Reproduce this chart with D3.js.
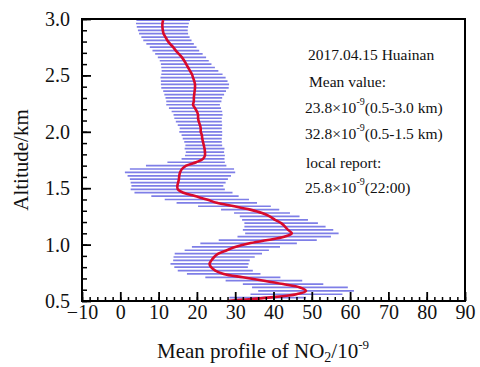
<!DOCTYPE html>
<html>
<head>
<meta charset="utf-8">
<script src="https://cdn.jsdelivr.net/npm/d3@7"></script>
<style>
  body { margin: 0; background: #fff; }
</style>
</head>
<body>
<div id="chart"></div>
<script>
// altitude levels (km)
const altitude = [
  0.50, 0.53, 0.56, 0.59, 0.62, 0.65, 0.68, 0.71, 0.74, 0.77,
  0.80, 0.83, 0.86, 0.89, 0.92, 0.95, 0.98, 1.01, 1.04, 1.07,
  1.10, 1.13, 1.16, 1.19, 1.22, 1.25, 1.28, 1.31, 1.34, 1.37,
  1.40, 1.43, 1.46, 1.49, 1.52, 1.55, 1.58, 1.61, 1.64, 1.67,
  1.70, 1.73, 1.76, 1.79, 1.82, 1.85, 1.88, 1.91, 1.94, 1.97,
  2.00, 2.03, 2.06, 2.09, 2.12, 2.15, 2.18, 2.21, 2.24, 2.27,
  2.30, 2.33, 2.36, 2.39, 2.42, 2.45, 2.48, 2.51, 2.54, 2.57,
  2.60, 2.63, 2.66, 2.69, 2.72, 2.75, 2.78, 2.81, 2.84, 2.87,
  2.90, 2.93, 2.96, 2.99
];

// mean NO2 (x10^-9)
const meanNO2 = [
  28.0, 38.5, 46.0, 48.5, 46.9, 42.5, 37.5, 32.0, 27.0, 24.8,
  23.7, 23.3, 23.8, 24.5, 25.6, 27.8, 30.2, 33.5, 38.5, 42.8,
  44.8, 43.8, 43.0, 42.0, 40.4, 39.0, 37.0, 33.9, 29.8, 25.2,
  22.6, 19.5, 16.5, 15.0, 14.9, 15.1, 15.3, 15.4, 15.6, 16.1,
  17.2, 19.8, 21.6, 22.1, 22.1, 22.0, 21.8, 21.6, 21.4, 21.3,
  21.0, 21.0, 20.8, 20.5, 20.3, 20.3, 20.0, 19.5, 19.0, 19.2,
  19.2, 19.3, 19.4, 19.5, 19.5, 19.3, 19.0, 18.7, 18.2, 17.7,
  17.2, 16.7, 16.1, 15.3, 14.5, 13.8, 13.0, 12.3, 11.8, 11.3,
  11.1, 11.0, 11.0, 11.2
];

// half width of the error bars (x10^-9)
const errNO2 = [
   7.0, 10.0, 12.0, 12.5, 12.5, 10.5, 10.0,  9.8,  9.6,  9.8,
   9.6, 10.2, 10.0, 10.6, 11.4, 11.0, 11.5, 12.6, 12.8, 12.2,
  12.2, 11.8, 10.6,  9.6,  8.6,  7.8,  7.3,  7.6,  9.5, 10.5,
  11.0, 11.4, 12.8, 12.3, 12.0, 12.4, 12.8, 13.5, 14.4, 13.6,
  10.5,  7.5,  5.6,  5.2,  5.0,  5.2,  4.8,  4.9,  5.1,  5.3,
   5.6,  5.5,  5.8,  6.0,  6.2,  6.4,  6.6,  6.8,  7.0,  7.2,
   7.4,  7.8,  8.2,  8.8,  8.9,  8.7,  8.5,  8.0,  7.4,  7.0,
   6.6,  6.4,  6.3,  6.2,  6.1,  6.1,  6.2,  6.3,  6.3,  6.4,
   6.5,  6.7,  6.9,  7.0
];

const xTicks = [-10, 0, 10, 20, 30, 40, 50, 60, 70, 80, 90];
const yTicks = [0.5, 1.0, 1.5, 2.0, 2.5, 3.0];

const data = altitude.map((a, i) => ({ alt: a, mean: meanNO2[i], err: errNO2[i] }));

const width = 480, height = 367;
const margin = { top: 19, right: 15, bottom: 66, left: 82 },
      innerW = width - margin.left - margin.right,
      innerH = height - margin.top - margin.bottom;

const svg = d3.select("#chart")
  .append("svg")
    .attr("width", width)
    .attr("height", height)
    .style("font-family", "'Liberation Serif', 'Times New Roman', serif");

const g = svg.append("g")
  .attr("transform", `translate(${margin.left},${margin.top})`);

const x = d3.scaleLinear().domain([-10, 90]).range([0, innerW]);
const y = d3.scaleLinear().domain([0.5, 3.0]).range([innerH, 0]);

// error bars
g.selectAll("line.err")
  .data(data)
  .enter()
  .append("line")
    .attr("class", "err")
    .attr("x1", d => x(d.mean - d.err))
    .attr("x2", d => x(d.mean + d.err))
    .attr("y1", d => y(d.alt))
    .attr("y2", d => y(d.alt))
    .attr("stroke", "#7070e4")
    .attr("stroke-width", 1.7)
    .attr("stroke-opacity", 0.9);

// mean profile
g.append("path")
  .datum(data)
  .attr("fill", "none")
  .attr("stroke", "#d80a2c")
  .attr("stroke-width", 2.6)
  .attr("stroke-linejoin", "round")
  .attr("d", d3.line().x(d => x(d.mean)).y(d => y(d.alt)).curve(d3.curveCatmullRom));

// minor ticks
g.append("g")
  .attr("transform", `translate(0,${innerH})`)
  .call(d3.axisBottom(x).tickValues(d3.range(-10, 91, 2)).tickSize(-4).tickFormat(""))
  .call(a => a.select(".domain").remove())
  .call(a => a.selectAll("line").attr("stroke-width", 1.5));

g.append("g")
  .call(d3.axisLeft(y).tickValues(d3.range(5, 31).map(v => v / 10)).tickSize(-5).tickFormat(""))
  .call(a => a.select(".domain").remove())
  .call(a => a.selectAll("line").attr("stroke-width", 1.5));

// major ticks
g.append("g")
  .attr("transform", `translate(0,${innerH})`)
  .call(d3.axisBottom(x).tickValues(xTicks).tickSize(-9).tickPadding(4))
  .call(a => a.select(".domain").remove())
  .call(a => a.selectAll("line").attr("stroke-width", 1.8))
  .call(a => a.selectAll("text").attr("font-size", "20px").attr("font-family", "'Liberation Serif', serif").attr("fill", "#111"));

g.append("g")
  .call(d3.axisLeft(y).tickValues(yTicks).tickSize(-9).tickPadding(12).tickFormat(d3.format(".1f")))
  .call(a => a.select(".domain").remove())
  .call(a => a.selectAll("line").attr("stroke-width", 1.8))
  .call(a => a.selectAll("text").attr("font-size", "20px").attr("font-family", "'Liberation Serif', serif").attr("fill", "#111"));

// frame
g.append("rect")
  .attr("width", innerW)
  .attr("height", innerH)
  .attr("fill", "none")
  .attr("stroke", "#000")
  .attr("stroke-width", 2);

// axis titles
svg.append("text")
  .attr("transform", `translate(28,${margin.top + innerH / 2}) rotate(-90)`)
  .attr("text-anchor", "middle")
  .attr("font-size", "21px")
  .attr("fill", "#111")
  .text("Altitude/km");

const xt = svg.append("text")
  .attr("x", 263)
  .attr("y", 358)
  .attr("text-anchor", "middle")
  .attr("font-size", "21px")
  .attr("fill", "#111");
xt.append("tspan").text("Mean profile of NO");
xt.append("tspan").attr("font-size", "14px").attr("dy", 4).text("2");
xt.append("tspan").attr("dy", -4).text("/10");
xt.append("tspan").attr("font-size", "13px").attr("dy", -9).text("-9");

// annotation block
const notes = [
  { x: 308, y: 60, parts: ["2017.04.15 Huainan"] },
  { x: 309, y: 87, parts: ["Mean value:"] },
  { x: 305, y: 113, parts: ["23.8×10", "-9", "(0.5-3.0 km)"] },
  { x: 305, y: 139, parts: ["32.8×10", "-9", "(0.5-1.5 km)"] },
  { x: 306, y: 168, parts: ["local report:"] },
  { x: 305, y: 193, parts: ["25.8×10", "-9", "(22:00)"] }
];

notes.forEach(n => {
  const t = svg.append("text")
    .attr("x", n.x)
    .attr("y", n.y)
    .attr("font-size", "15.5px")
    .attr("fill", "#111");
  t.append("tspan").text(n.parts[0]);
  if (n.parts.length > 1) {
    t.append("tspan").attr("font-size", "10px").attr("dy", -8).text(n.parts[1]);
    t.append("tspan").attr("dy", 8).text(n.parts[2]);
  }
});
</script>
</body>
</html>
